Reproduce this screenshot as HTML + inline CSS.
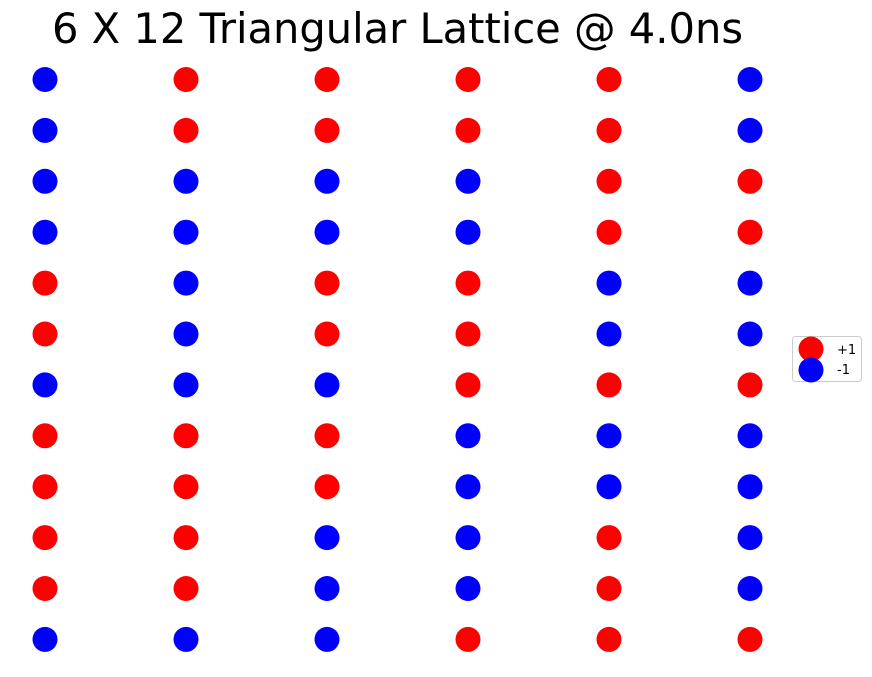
<!DOCTYPE html>
<html><head><meta charset="utf-8"><style>
body{margin:0;background:#fff;}
svg{display:block;font-family:"DejaVu Sans","Liberation Sans",sans-serif;}
</style></head><body>
<svg id="chart" width="872" height="677" viewBox="0 0 872 677">
<text x="397.5" y="43" font-size="41.6" text-anchor="middle" fill="#000">6 X 12 Triangular Lattice @ 4.0ns</text>
<g id="points"></g>
<g>
<rect x="792.5" y="336.5" width="69" height="45" rx="3" fill="#fff" stroke="#ccc"/>
<circle cx="811" cy="349" r="12.5" fill="#ff0000"/>
<text x="837" y="354" font-size="13">+1</text>
<circle cx="811" cy="370" r="12.5" fill="#0000ff"/>
<text x="837" y="374" font-size="13">-1</text>
</g>
</svg>
<script>
const columns=[0,1,2,3,4,5];
const rows=[0,1,2,3,4,5,6,7,8,9,10,11];
const spins=[
"-++++-",
"-++++-",
"----++",
"----++",
"+-++--",
"+-++--",
"---+++",
"+++---",
"+++---",
"++--+-",
"++--+-",
"---+++"];
const xScale=c=>45+c*141;
const yScale=r=>79.5+r*50.9;
const g=document.getElementById('points');
rows.forEach(r=>columns.forEach(c=>{
  const el=document.createElementNS('http://www.w3.org/2000/svg','circle');
  
  
  el.setAttribute('cx',xScale(c));
  el.setAttribute('cy',yScale(r));
  el.setAttribute('r',12.5);
  el.setAttribute('fill',spins[r][c]==='+'?'#ff0000':'#0000ff');
  g.appendChild(el);
}));
</script>
</body></html>
